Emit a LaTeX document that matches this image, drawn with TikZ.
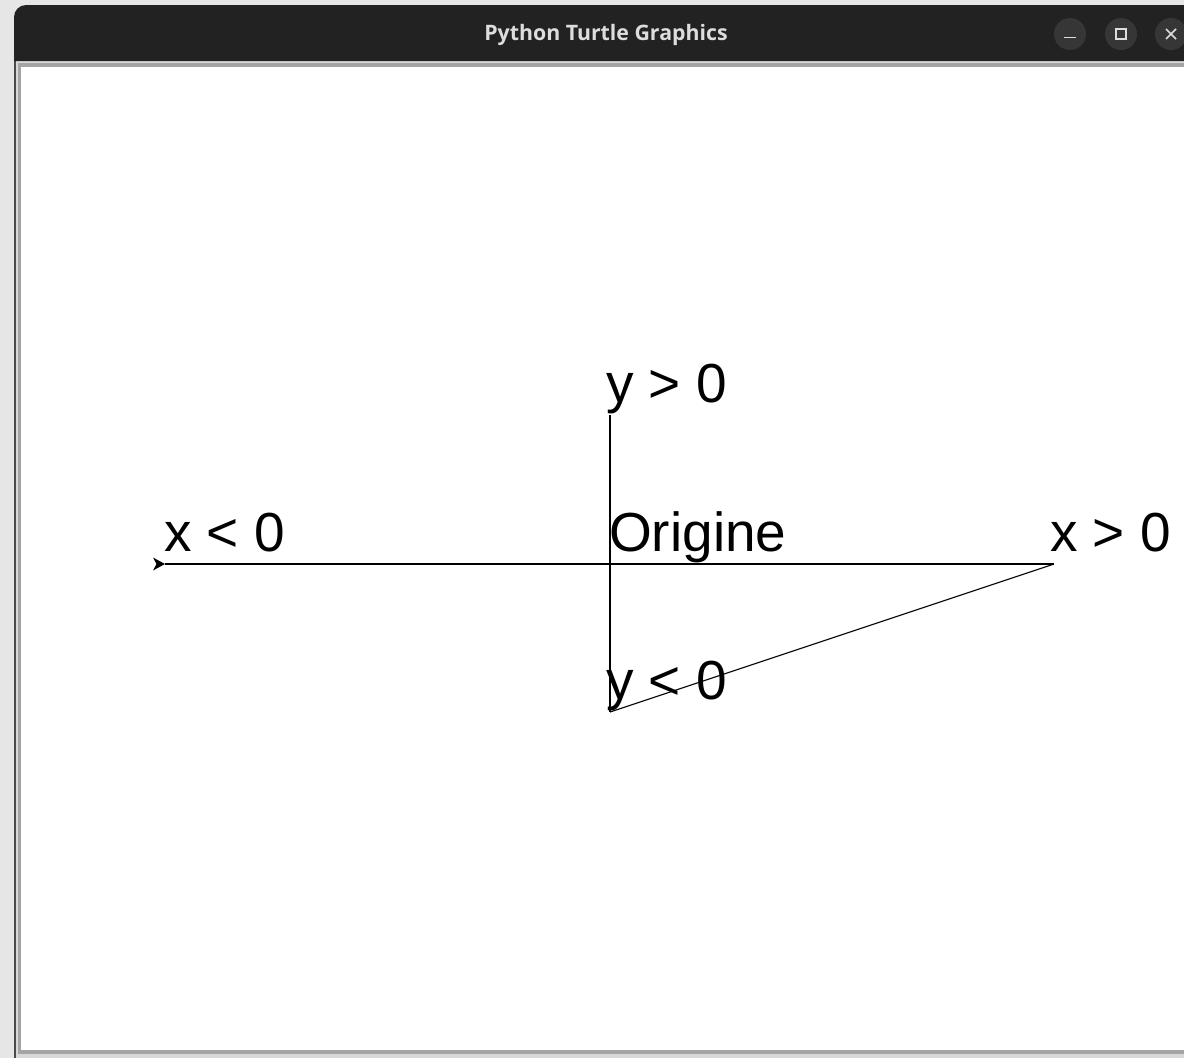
\documentclass[tikz,border=0pt]{standalone}
\usepackage{fontspec}
\setmainfont{Liberation Sans}
\newfontfamily\titlefont{Open Sans}
\definecolor{barcol}{HTML}{222222}
\definecolor{btncol}{HTML}{363636}
\definecolor{iconcol}{HTML}{DDDDDD}
\definecolor{shadowcol}{HTML}{E6E6E6}
\definecolor{framegray}{HTML}{A4A4A4}
\definecolor{framedark}{HTML}{4A4A4A}
\definecolor{framelight}{HTML}{D8D8D8}
\tikzset{
  lbl/.style={anchor=base west, inner sep=0pt, font=\fontsize{55}{62}\selectfont, text=black},
  trail/.style={draw=black, line width=1.1pt},
  icon/.style={draw=iconcol, line width=1.6pt},
  btn/.style={circle, fill=btncol, minimum size=32pt, inner sep=0pt},
}
\begin{document}
\begin{tikzpicture}[x=1pt,y=-1pt]
\useasboundingbox (0,0) rectangle (1184,1058);
% outer shadow background
\fill[shadowcol] (0,0) rectangle (1184,1058);
% window frame
\fill[framedark] (14,50) rectangle (1184,1058);
\fill[framelight] (16,61) rectangle (1184,1058);
\fill[framegray] (18,63) rectangle (1184,1054);
\fill[white] (21,67) rectangle (1184,1050);
% title bar
\fill[barcol] (14,61) -- (14,17) arc[start angle=180, end angle=270, radius=12] -- (1184,5) -- (1184,61) -- cycle;
\node[anchor=center, inner sep=0pt, text=iconcol, font=\titlefont\bfseries\fontsize{21.3}{24}\selectfont] (title) at (606,35) {Python Turtle Graphics};
% buttons
\node[btn] (bmin) at (1070,34) {};
\node[btn] (bmax) at (1121,34) {};
\node[btn] (bclose) at (1171,34) {};
\draw[icon] ([xshift=-6pt,yshift=-3.5pt]bmin.center) -- ([xshift=6pt,yshift=-3.5pt]bmin.center);
\draw[icon, line width=1.4pt] ([xshift=-5pt,yshift=-5pt]bmax.center) rectangle ([xshift=5pt,yshift=5pt]bmax.center);
\draw[icon] ([xshift=-5pt,yshift=-5pt]bclose.center) -- ([xshift=5pt,yshift=5pt]bclose.center);
\draw[icon] ([xshift=-5pt,yshift=5pt]bclose.center) -- ([xshift=5pt,yshift=-5pt]bclose.center);
% points
\coordinate (O) at (610,564);
\coordinate (L) at (165,564);
\coordinate (R) at (1054,564);
\coordinate (T) at (610,415);
\coordinate (B) at (610,712);
% trail
\draw[trail] (L) -- (R);
\draw[trail] (T) -- (B);
\draw[trail] (B) -- (R);
% labels
\node[lbl] (ltop) at (606,402) {y > 0};
\node[lbl] (lleft) at (164,551) {x < 0};
\node[lbl] (lorig) at (609,551) {Origine};
\node[lbl] (lright) at (1050,551) {x > 0};
\node[lbl] (lbot) at (606,699) {y < 0};
% turtle
\fill[black] (L) -- ++(-12,-6.5) -- ++(3.5,6.5) -- ++(-3.5,6.5) -- cycle;
\end{tikzpicture}
\end{document}
